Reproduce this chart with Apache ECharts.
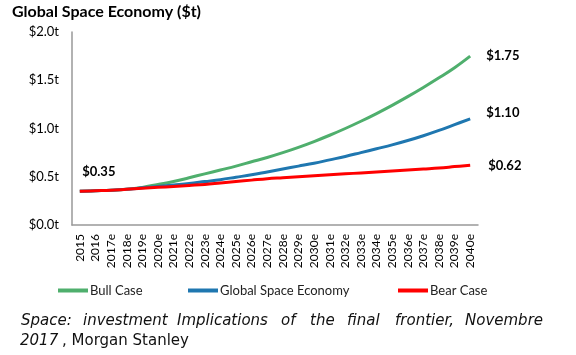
<!DOCTYPE html>
<html><head><meta charset="utf-8">
<script src="https://cdn.jsdelivr.net/npm/echarts@6/dist/echarts.min.js"></script>
<style>html,body{margin:0;padding:0;background:#fff}#c{width:576px;height:355px}</style>
</head><body><div id="c"></div>
<script>
var years = ['2015','2016','2017e','2018e','2019e','2020e','2021e','2022e','2023e','2024e','2025e','2026e','2027e','2028e','2029e','2030e','2031e','2032e','2033e','2034e','2035e','2036e','2037e','2038e','2039e','2040e'];
var bull = [0.35,0.355,0.36,0.37,0.39,0.42,0.45,0.49,0.53,0.57,0.61,0.655,0.70,0.75,0.805,0.865,0.93,1.00,1.075,1.155,1.24,1.33,1.425,1.525,1.63,1.75];
var base = [0.35,0.355,0.36,0.37,0.385,0.40,0.415,0.43,0.45,0.47,0.495,0.52,0.55,0.58,0.61,0.64,0.675,0.71,0.75,0.79,0.83,0.875,0.925,0.98,1.04,1.10];
var bear = [0.35,0.355,0.36,0.37,0.38,0.39,0.40,0.41,0.42,0.435,0.45,0.465,0.48,0.49,0.50,0.51,0.52,0.53,0.54,0.55,0.56,0.57,0.58,0.59,0.605,0.62];
var yTicks = [0, 0.5, 1.0, 1.5, 2.0];
var names = ['Bull Case','Global Space Economy','Bear Case'];
var colors = ['#4FAF6D','#1F77B0','#FF0000'];
var title = 'Global Space Economy ($t)';
var captionWords = ['Space:','investment','Implications','of','the','final','frontier,','Novembre'];
var captionX = [21,83,177,281,310,347,395,465];

var F = 'Lato, "Open Sans", sans-serif';
function fmt(v){ return '$' + v.toFixed(2); }
var chart = echarts.init(document.getElementById('c'), null, {renderer:'canvas'});
var endOffsets = [[0,0],[0,-6],[2,1]];
var series = [bull, base, bear].map(function(arr, k){
  var s = {
    name: names[k], type:'line', data: arr,
    smooth:0.4, symbol:'none',
    lineStyle:{width:3, color:colors[k]}, itemStyle:{color:colors[k]},
    endLabel:{show:true, distance:16, offset:endOffsets[k], fontFamily:F, fontWeight:'bold', fontSize:13, color:'#000',
      formatter:function(p){ return fmt(p.value); }},
    z: 2+k, animation:false
  };
  if(k === 1){
    s.markPoint = {symbol:'circle', symbolSize:0, animation:false,
      data:[{coord:[0, arr[0]], value:arr[0],
        label:{show:true, position:'inside', offset:[19,-19], fontFamily:F, fontWeight:'bold', fontSize:13, color:'#000',
          formatter:function(p){ return fmt(p.value); }}}]};
  }
  return s;
});
var graphics = [{type:'text', left:12, top:4, style:{text:title, font:'bold 16px '+F, fill:'#000'}}];
captionWords.forEach(function(w,i){
  graphics.push({type:'text', x:captionX[i], y:314, style:{text:w, font:'italic 15px "DejaVu Sans"', fill:'#111'}});
});
graphics.push({type:'text', x:20, y:334, style:{text:'2017', font:'italic 15px "DejaVu Sans"', fill:'#111'}});
graphics.push({type:'text', x:62, y:334, style:{text:', Morgan Stanley', font:'15px "DejaVu Sans"', fill:'#111'}});

function leg(i, left){
  return {data:[names[i]], left:left, top:279, icon:'rect', itemWidth:30, itemHeight:4, itemGap:0,
    textStyle:{fontFamily:F, fontSize:13, color:'#222', padding:[0,0,0,-3]}, selectedMode:false};
}
chart.setOption({
  animation:false,
  grid:{left:72, right:98, top:32, bottom:130, containLabel:false},
  legend:[leg(0,53), leg(1,183), leg(2,393)],
  xAxis:{type:'category', data:years, boundaryGap:true,
    axisLine:{lineStyle:{color:'#999', width:1.5}}, axisTick:{show:false},
    axisLabel:{rotate:90, interval:0, margin:9, fontFamily:F, fontSize:12, color:'#000'}},
  yAxis:{type:'value', min:yTicks[0], max:yTicks[yTicks.length-1], interval:0.5,
    axisLine:{show:true, lineStyle:{color:'#999', width:1.5}}, axisTick:{show:false}, splitLine:{show:false},
    axisLabel:{margin:13, fontFamily:F, fontSize:13, color:'#000', formatter:function(v){return '$'+v.toFixed(1)+'t';}}},
  series: series,
  graphic: graphics
});
</script></body></html>
